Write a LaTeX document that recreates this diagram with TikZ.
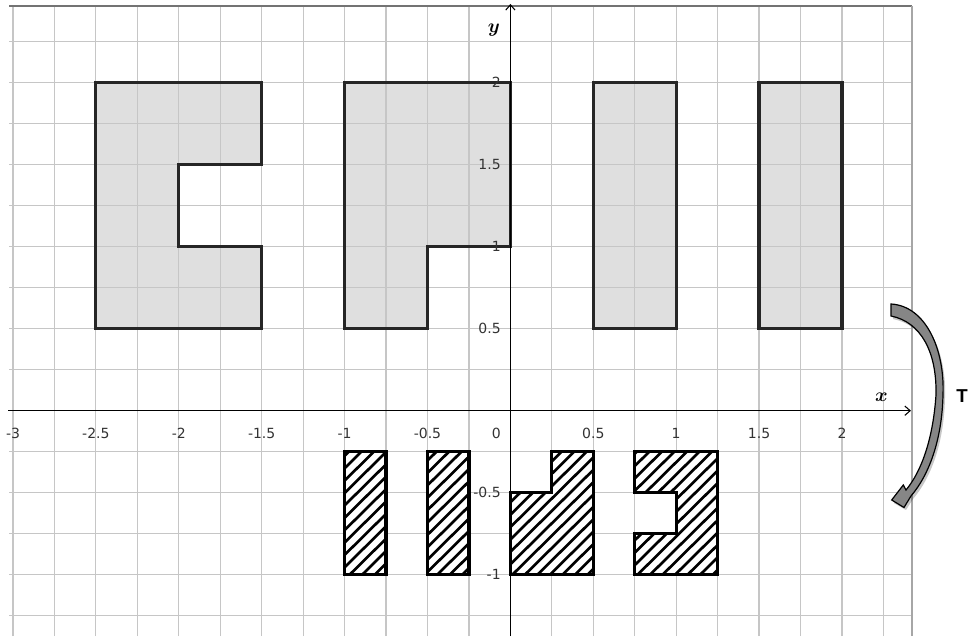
\documentclass[tikz,border=0pt]{standalone}
\usepackage{amsmath}
\usepackage{fontspec}
\newfontfamily\labfont{DejaVu Sans}
\newfontfamily\tfont{Liberation Sans}
\usetikzlibrary{arrows.meta}
\tikzset{
  gridline/.style={draw=gray!45, line width=0.9pt},
  shapefill/.style={fill=gray!25},
  shapeout/.style={draw=black!85, line width=2.4pt, line join=miter},
  hatchout/.style={draw=black, line width=2.4pt, line join=miter},
  hatchline/.style={draw=black, line width=2pt},
  axisline/.style={draw=black, line width=0.9pt, -{Straight Barb[length=4pt,width=7pt,line width=0.8pt]}},
  ticklab/.style={font=\labfont\fontsize{10.5}{12}\selectfont, text=black!80, inner sep=0pt},
  axlab/.style={font=\fontsize{14.5}{16}\selectfont, inner sep=0pt},
  bigarrow/.style={fill=gray!95, draw=black, line width=0.9pt, line join=miter},
}
\begin{document}
\begin{tikzpicture}[x=124.35pt,y=123pt]
\useasboundingbox (-3.0784,-1.3738) rectangle (2.760,2.5043);
\fill[white] (-3.0784,-1.3738) rectangle (2.760,2.5043);
% gray fills
\path[shapefill] (-2.5,0.5) -- (-1.5,0.5) -- (-1.5,1) -- (-2,1) -- (-2,1.5) -- (-1.5,1.5) -- (-1.5,2) -- (-2.5,2) -- cycle;
\path[shapefill] (-1,0.5) -- (-0.5,0.5) -- (-0.5,1) -- (0,1) -- (0,2) -- (-1,2) -- cycle;
\path[shapefill] (0.5,0.5) rectangle (1,2);
\path[shapefill] (1.5,0.5) rectangle (2,2);
% grid
\foreach \k in {-5,...,9} \draw[gridline] (-3.024,\k*0.25) -- (2.4204,\k*0.25);
\foreach \k in {-12,...,9} \draw[gridline] (\k*0.25,-1.3738) -- (\k*0.25,2.4677);
\draw[draw=black!55, line width=0.8pt] (-3.024,2.4677) -- (2.4204,2.4677);
\draw[draw=gray!70, line width=1.4pt] (2.4204,-1.3738) -- (2.4204,2.4677);
% gray outlines
\draw[shapeout] (-2.5,0.5) -- (-1.5,0.5) -- (-1.5,1) -- (-2,1) -- (-2,1.5) -- (-1.5,1.5) -- (-1.5,2) -- (-2.5,2) -- cycle;
\draw[shapeout] (-1,0.5) -- (-0.5,0.5) -- (-0.5,1) -- (0,1) -- (0,2) -- (-1,2) -- cycle;
\draw[shapeout] (0.5,0.5) rectangle (1,2);
\draw[shapeout] (1.5,0.5) rectangle (2,2);
% hatched shapes
\fill[white] (-1,-1) rectangle (-0.75,-0.25) (-0.5,-1) rectangle (-0.25,-0.25)
  (0,-1) -- (0.5,-1) -- (0.5,-0.25) -- (0.25,-0.25) -- (0.25,-0.5) -- (0,-0.5) -- cycle
  (0.75,-0.25) -- (1.25,-0.25) -- (1.25,-1) -- (0.75,-1) -- (0.75,-0.75) -- (1,-0.75) -- (1,-0.5) -- (0.75,-0.5) -- cycle;
\begin{scope}
\clip (-1,-1) rectangle (-0.75,-0.25) (-0.5,-1) rectangle (-0.25,-0.25)
  (0,-1) -- (0.5,-1) -- (0.5,-0.25) -- (0.25,-0.25) -- (0.25,-0.5) -- (0,-0.5) -- cycle
  (0.75,-0.25) -- (1.25,-0.25) -- (1.25,-1) -- (0.75,-1) -- (0.75,-0.75) -- (1,-0.75) -- (1,-0.5) -- (0.75,-0.5) -- cycle;
\foreach \b in {-1.8,-1.7245,...,1.35} \draw[hatchline] (\b-0.1,-1.1) -- (\b+0.85,-0.15);
\end{scope}
\draw[hatchout] (-1,-1) rectangle (-0.75,-0.25);
\draw[hatchout] (-0.5,-1) rectangle (-0.25,-0.25);
\draw[hatchout] (0,-1) -- (0.5,-1) -- (0.5,-0.25) -- (0.25,-0.25) -- (0.25,-0.5) -- (0,-0.5) -- cycle;
\draw[hatchout] (0.75,-0.25) -- (1.25,-0.25) -- (1.25,-1) -- (0.75,-1) -- (0.75,-0.75) -- (1,-0.75) -- (1,-0.5) -- (0.75,-0.5) -- cycle;
% axes
\draw[axisline] (-3.03,0) -- (2.416,0);
\draw[axisline] (0,-1.3738) -- (0,2.48);
\node[axlab] (xlab) at (2.238,0.080) {$\boldsymbol{x}$};
\node[axlab] (ylab) at (-0.099,2.321) {$\boldsymbol{y}$};
% tick labels
\foreach \v [count=\i] in {-3,-2.5,-2,-1.5,-1,-0.5,0.5,1,1.5,2}
  \node[ticklab] (xt\i) at (\v,-0.136) {\v};
\node[ticklab, anchor=east] (zero) at (-0.057,-0.136) {0};
\foreach \v [count=\i] in {2,1.5,1,0.5,-0.5,-1}
  \node[ticklab, anchor=east] (yt\i) at (-0.057,\v) {\v};
% curved arrow (pixel coordinates)
\begin{scope}[xshift=-382.8pt, yshift=308.025pt, x=0.75pt, y=-0.75pt]
\fill[black, opacity=0.22] (893,307) .. controls (928,309) and (947,353) .. (945,398)
  .. controls (944,443) and (931,478) .. (913,499) -- (906,510) -- (893.7,503) -- (905.3,488)
  -- (908,493) .. controls (923,475) and (935,443) .. (938,398)
  .. controls (939,355) and (923,325) .. (893,319) -- cycle;
\draw[bigarrow] (891,304) .. controls (926,306) and (945,350) .. (943,395)
  .. controls (942,440) and (929,475) .. (911,496) -- (904,507.5) -- (891.7,500) -- (903.3,485)
  -- (906,490) .. controls (921,472) and (933,440) .. (936,395)
  .. controls (937,352) and (921,322) .. (891,316) -- cycle;
\end{scope}
\node[font=\tfont\bfseries\fontsize{14}{16}\selectfont, anchor=west, inner sep=0pt] (T) at (2.688,0.0896) {T};
\end{tikzpicture}
\end{document}
